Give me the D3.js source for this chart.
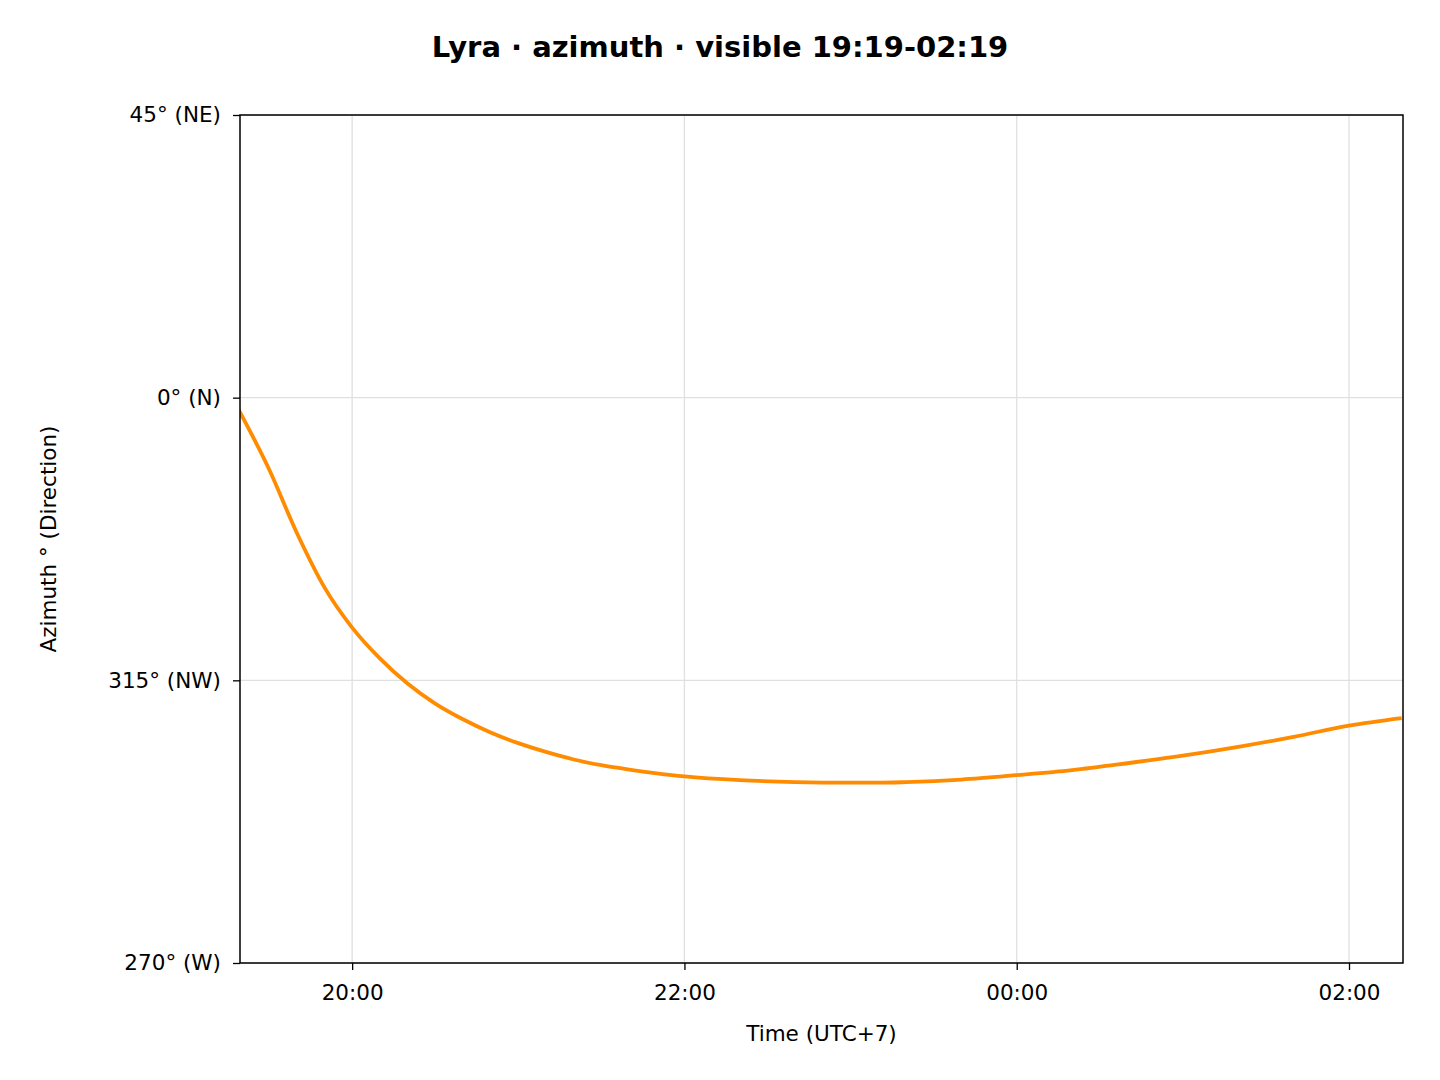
<!DOCTYPE html>
<html><head><meta charset="utf-8">
<script src="https://cdn.jsdelivr.net/npm/d3@7"></script>
<style>body{margin:0;background:#fff;font-family:"DejaVu Sans",sans-serif}</style>
</head><body><svg id="c" width="1440" height="1080"></svg>
<script>
const times = ["19:19","19:30","19:40","19:50","20:00","20:10","20:20","20:30","20:40","20:50","21:00","21:10","21:20","21:30","21:40","21:50","22:00","22:20","22:40","23:00","23:10","23:20","23:40","00:00","00:20","00:40","01:00","01:20","01:40","02:00","02:19"];
const azimuth = [358.1,348.6,338.5,329.8,323.4,318.5,314.5,311.3,308.8,306.7,305.0,303.6,302.4,301.5,300.8,300.2,299.7,299.1,298.8,298.7,298.7,298.8,299.2,299.9,300.7,301.8,303.0,304.4,306.0,307.8,309.0];
const yTicks = [45,0,-45,-90];
const yTickLabels = ["45° (NE)","0° (N)","315° (NW)","270° (W)"];
const xTicks = ["20:00","22:00","00:00","02:00"];

function toMin(t){let [h,m]=t.split(":").map(Number); if(h<12)h+=24; return h*60+m;}
const signed = a => a>180 ? a-360 : a;
const svg = d3.select("#c");
const L=240,R=1403,T=115,B=963;
const x = d3.scaleLinear().domain([toMin("19:19")+0.5,toMin("02:19")+0.5]).range([L,R]);
const y = d3.scaleLinear().domain([-90,45]).range([B,T]);
const xt = xTicks.map(toMin);
const g = svg.append("g");
g.selectAll(".gx").data(xt).enter().append("line").attr("x1",d=>x(d)).attr("x2",d=>x(d)).attr("y1",T).attr("y2",B).attr("stroke","#e0e0e0").attr("stroke-width",1.3);
g.selectAll(".gy").data(yTicks).enter().append("line").attr("y1",d=>y(d)).attr("y2",d=>y(d)).attr("x1",L).attr("x2",R).attr("stroke","#e0e0e0").attr("stroke-width",1.3);
const line = d3.line().x((d,i)=>x(toMin(times[i]))).y(d=>y(signed(d))).curve(d3.curveMonotoneX);
svg.append("defs").append("clipPath").attr("id","cp").append("rect").attr("x",L).attr("y",T).attr("width",R-L).attr("height",B-T);
svg.append("path").datum(azimuth).attr("d",line).attr("clip-path","url(#cp)").attr("fill","none").attr("stroke","#ff8c00").attr("stroke-width",3.8).attr("stroke-linejoin","round");
const xa = svg.append("g").attr("transform",`translate(0,${B})`).call(d3.axisBottom(x).tickValues(xt).tickFormat((d,i)=>xTicks[i]).tickSize(7).tickSizeOuter(0));
const ya = svg.append("g").attr("transform",`translate(${L},0)`).call(d3.axisLeft(y).tickValues(yTicks).tickFormat((d,i)=>yTickLabels[i]).tickSize(7).tickSizeOuter(0));
[xa,ya].forEach(a=>{a.selectAll("text").attr("font-size",21.5).attr("font-family","DejaVu Sans").attr("fill","#000");a.selectAll("line").attr("stroke","#000").attr("stroke-width",1.3);a.select(".domain").remove();});
xa.selectAll("text").attr("dy","1.25em");
ya.selectAll("text").attr("x",-19);
svg.append("rect").attr("x",L).attr("y",T).attr("width",R-L).attr("height",B-T).attr("fill","none").attr("stroke","#000").attr("stroke-width",1.5);
svg.append("text").attr("x",720).attr("y",57).attr("text-anchor","middle").attr("font-size",29).attr("font-weight","bold").text("Lyra · azimuth · visible 19:19-02:19");
svg.append("text").attr("x",(L+R)/2).attr("y",1041).attr("text-anchor","middle").attr("font-size",21.5).text("Time (UTC+7)");
svg.append("text").attr("transform",`translate(56,${(T+B)/2}) rotate(-90)`).attr("text-anchor","middle").attr("font-size",21.5).text("Azimuth ° (Direction)");
</script></body></html>
